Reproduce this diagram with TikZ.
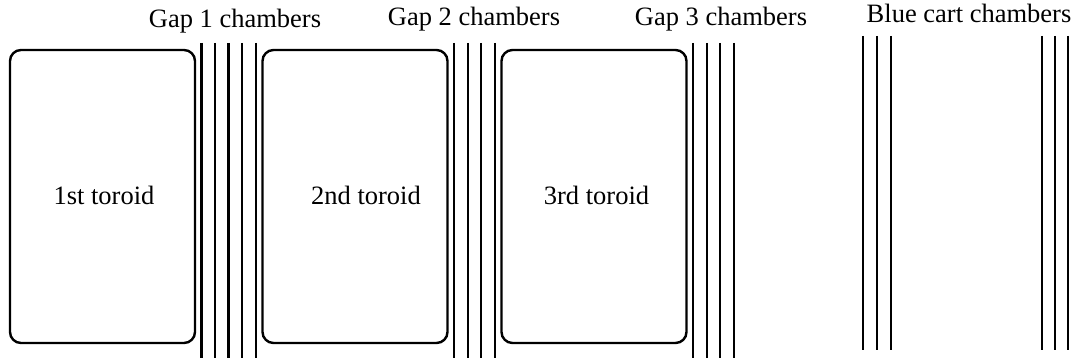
\documentclass[tikz,border=0pt]{standalone}
\usepackage{fontspec}
\setmainfont{Liberation Serif}
\tikzset{
  toroid/.style={draw, line width=2.4pt, rounded corners=11pt, minimum width=185pt, minimum height=293pt, inner sep=0pt},
  chamber/.style={line width=2.4pt},
  lbl/.style={anchor=base, inner sep=0pt, font=\fontsize{26.5}{30}\selectfont}
}
\begin{document}
\begin{tikzpicture}[x=1pt,y=-1pt]
\useasboundingbox (0,0) rectangle (1082,361);
% toroids
\node[toroid] (t1) at (102.5,196.5) {};
\node[toroid] (t2) at (355,196.5) {};
\node[toroid] (t3) at (594,196.5) {};
\node[lbl] (l1) at (104,204) {1st toroid};
\node[lbl] (l2) at (366,204) {2nd toroid};
\node[lbl] (l3) at (596.5,204) {3rd toroid};
% chambers
\foreach \x in {201.5,215,228.5,242,256,454,468,481,495,693,707,720,734}
  \draw[chamber] (\x,43) -- (\x,358);
\foreach \x in {863,877,891,1042,1055,1068}
  \draw[chamber] (\x,36) -- (\x,350);
% titles
\node[lbl] (g1) at (235,28) {Gap 1 chambers};
\node[lbl] (g2) at (474,26) {Gap 2 chambers};
\node[lbl] (g3) at (721,26) {Gap 3 chambers};
\node[lbl] (bc) at (969,23) {Blue cart chambers};
\end{tikzpicture}
\end{document}
